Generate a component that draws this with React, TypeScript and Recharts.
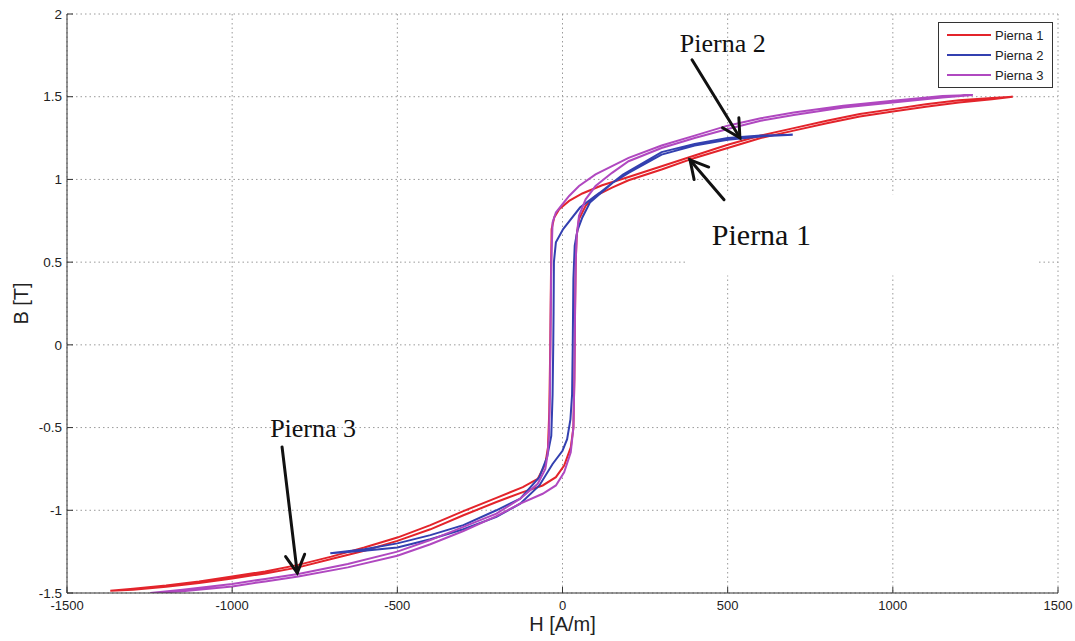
import {
  LineChart, Line, XAxis, YAxis, CartesianGrid, Legend,
  ReferenceLine, ReferenceDot, ReferenceArea,
} from 'recharts'

document.body.style.margin = '0'

// ─── data ─────────────────────────────────────────────────────────────

const xTicks = [-1500, -1000, -500, 0, 500, 1000, 1500]
const yTicks = [-1.5, -1, -0.5, 0, 0.5, 1, 1.5, 2]
const seriesNames = ['Pierna 1', 'Pierna 2', 'Pierna 3']

// each loop = ascending branch (−Hmax → +Hmax) followed by descending branch (back)
const pierna1H = [
  -1369, -1300, -1200, -1100, -1000, -900, -800, -700, -600, -500, -400, -300, -200, -120, -60, -20, 5, 25, 33, 36, 38, 40, 43, 50, 70, 100, 150, 200, 300, 400, 500, 600, 700, 800, 900, 1000, 1100, 1200, 1300, 1363,
  1300, 1200, 1100, 1000, 900, 800, 700, 600, 500, 400, 300, 200, 120, 60, 20, -10, -25, -33, -35, -37, -40, -44, -52, -75, -120, -200, -300, -400, -500, -600, -700, -800, -900, -1000, -1100, -1200, -1300, -1369,
]
const pierna1B = [
  -1.487, -1.48, -1.462, -1.44, -1.412, -1.382, -1.345, -1.295, -1.245, -1.185, -1.115, -1.03, -0.95, -0.89, -0.85, -0.8, -0.73, -0.62, -0.5, -0.2, 0.2, 0.5, 0.66, 0.76, 0.84, 0.9, 0.95, 0.995, 1.06, 1.13, 1.19, 1.25, 1.295, 1.34, 1.38, 1.41, 1.44, 1.465, 1.485, 1.5,
  1.492, 1.478, 1.455, 1.425, 1.395, 1.355, 1.31, 1.265, 1.21, 1.145, 1.08, 1.015, 0.965, 0.915, 0.87, 0.82, 0.77, 0.7, 0.4, 0, -0.4, -0.62, -0.72, -0.81, -0.86, -0.925, -1.005, -1.09, -1.165, -1.225, -1.28, -1.33, -1.37, -1.4, -1.43, -1.455, -1.475, -1.487,
]

const pierna2H = [
  -703, -600, -500, -400, -300, -200, -128, -70, -30, 0, 14, 24, 29, 31, 33, 37, 45, 60, 83, 152, 200, 300, 400, 500, 600, 697,
  600, 500, 400, 300, 183, 113, 53, 2, -20, -26, -27, -28, -30, -34, -47, -70, -128, -200, -300, -400, -500, -600, -703,
]
const pierna2B = [
  -1.26, -1.245, -1.225, -1.175, -1.115, -1.04, -0.96, -0.85, -0.72, -0.64, -0.57, -0.45, -0.3, 0, 0.4, 0.6, 0.69, 0.77, 0.86, 0.98, 1.04, 1.15, 1.205, 1.24, 1.26, 1.27,
  1.265, 1.25, 1.215, 1.165, 1.03, 0.92, 0.83, 0.7, 0.62, 0.5, 0.2, 0, -0.3, -0.55, -0.68, -0.8, -0.93, -1.0, -1.09, -1.15, -1.2, -1.235, -1.26,
]

const pierna3H = [
  -1248, -1150, -1000, -900, -800, -650, -500, -400, -300, -200, -128, -60, -20, 5, 25, 33, 36, 38, 40, 43, 50, 70, 100, 150, 200, 300, 400, 500, 600, 700, 850, 1000, 1150, 1242,
  1150, 1000, 850, 700, 600, 500, 400, 300, 200, 100, 50, 20, 0, -20, -30, -34, -36, -38, -41, -45, -52, -75, -128, -200, -300, -400, -500, -650, -800, -900, -1000, -1150, -1248,
]
const pierna3B = [
  -1.5, -1.49, -1.46, -1.43, -1.4, -1.345, -1.275, -1.205, -1.125, -1.035, -0.96, -0.9, -0.85, -0.77, -0.65, -0.5, -0.2, 0.2, 0.5, 0.66, 0.78, 0.88, 0.96, 1.04, 1.11, 1.19, 1.25, 1.305, 1.355, 1.39, 1.435, 1.465, 1.495, 1.51,
  1.505, 1.475, 1.445, 1.405, 1.37, 1.325, 1.265, 1.205, 1.13, 1.03, 0.96, 0.9, 0.85, 0.8, 0.74, 0.5, 0.1, -0.3, -0.55, -0.66, -0.75, -0.84, -0.93, -1.02, -1.1, -1.18, -1.25, -1.325, -1.385, -1.415, -1.445, -1.48, -1.5,
]

// annotations (data coordinates)
const noteText = ['Pierna 1', 'Pierna 2', 'Pierna 3']
const noteH = [452, 355, -885]
const noteB = [0.605, 1.77, -0.556]
const arrowFromH = [489, 392, -849]
const arrowFromB = [0.877, 1.723, -0.617]
const arrowToH = [386, 537, -803]
const arrowToB = [1.118, 1.252, -1.378]

// ─── helpers ──────────────────────────────────────────────────────────

const COLORS = ['#e3242b', '#3340b0', '#b048c0']
const NOTE_SIZE = [30, 26, 26]
const AXIS = '#333'
const FONT = '"Liberation Sans", Arial, Helvetica, sans-serif'

const zip = (h: number[], b: number[]) => h.map((v, i) => ({ h: v, b: b[i] }))
const loops = [zip(pierna1H, pierna1B), zip(pierna2H, pierna2B), zip(pierna3H, pierna3B)]

function BottomTick({ x, y, payload }: any) {
  return (
    <g>
      <line x1={x} y1={y} x2={x} y2={y - 6} stroke={AXIS} />
      <text x={x} y={y + 17} textAnchor="middle" fontSize={13} fill="#222">{payload.value}</text>
    </g>
  )
}

function LeftTick({ x, y, payload }: any) {
  return (
    <g>
      <line x1={x} y1={y} x2={x + 6} y2={y} stroke={AXIS} />
      <text x={x - 5} y={y} dy="0.35em" textAnchor="end" fontSize={13.5} fill="#222">{payload.value}</text>
    </g>
  )
}

const TopTick = ({ x, y }: any) => <line x1={x} y1={y} x2={x} y2={y + 6} stroke={AXIS} />
const RightTick = ({ x, y }: any) => <line x1={x} y1={y} x2={x - 6} y2={y} stroke={AXIS} />

function Arrow({ x1, y1, x2, y2 }: any) {
  const ang = Math.atan2(y2 - y1, x2 - x1)
  const len = 20
  const spread = 0.5
  const ax = x2 - len * Math.cos(ang - spread)
  const ay = y2 - len * Math.sin(ang - spread)
  const bx = x2 - len * Math.cos(ang + spread)
  const by = y2 - len * Math.sin(ang + spread)
  return (
    <g stroke="#111" strokeWidth={3} fill="none" strokeLinecap="round">
      <line x1={x1} y1={y1} x2={x2} y2={y2} />
      <polyline points={`${ax},${ay} ${x2},${y2} ${bx},${by}`} />
    </g>
  )
}

function LegendBox() {
  return (
    <div style={{
      border: '1px solid #333', background: '#fff', padding: '2px 0 2px 8px',
      boxSizing: 'border-box', width: 115, fontFamily: FONT, fontSize: 13, color: '#222',
    }}>
      {seriesNames.map((n, i) => (
        <div key={n} style={{ display: 'flex', alignItems: 'center', height: 20 }}>
          <svg width={44} height={4}><line x1={0} y1={2} x2={44} y2={2} stroke={COLORS[i]} strokeWidth={2} /></svg>
          <span style={{ marginLeft: 4 }}>{n}</span>
        </div>
      ))}
    </div>
  )
}

function YLabel({ viewBox }: any) {
  const cx = viewBox.x + 21
  const cy = viewBox.y + viewBox.height / 2
  return (
    <text x={cx} y={cy} dy="0.35em" textAnchor="middle" fontSize={20} fill="#222"
      transform={`rotate(-90 ${cx} ${cy})`}>B [T]</text>
  )
}

export default function App() {
  return (
    <LineChart
      width={1075}
      height={641}
      margin={{ top: 14, right: 17, bottom: 0, left: 0 }}
      style={{ fontFamily: FONT, background: '#fff' }}
    >
      <CartesianGrid strokeDasharray="1.5 3" stroke="#9a9a9a" />
      <XAxis
        dataKey="h" type="number" domain={[-1500, 1500]} ticks={xTicks} allowDataOverflow
        height={48} tickSize={0} tickMargin={0} tick={<BottomTick />} tickLine={false}
        axisLine={{ stroke: AXIS }} interval={0}
        label={{ value: 'H [A/m]', position: 'insideBottom', offset: 10, fontSize: 20, fill: '#222' }}
      />
      <XAxis
        xAxisId="top" orientation="top" type="number" domain={[-1500, 1500]} ticks={xTicks} allowDataOverflow
        height={0} tickSize={0} tickMargin={0} tick={<TopTick />} tickLine={false} axisLine={{ stroke: AXIS }} interval={0}
      />
      <YAxis
        type="number" domain={[-1.5, 2]} ticks={yTicks} allowDataOverflow
        width={67} tickSize={0} tickMargin={0} tick={<LeftTick />} tickLine={false}
        axisLine={{ stroke: AXIS }} interval={0}
        label={{ content: <YLabel /> }}
      />
      <YAxis
        yAxisId="right" orientation="right" type="number" domain={[-1.5, 2]} ticks={yTicks} allowDataOverflow
        width={0} tickSize={0} tickMargin={0} tick={<RightTick />} tickLine={false} axisLine={{ stroke: AXIS }} interval={0}
      />
      <ReferenceArea x1={378} x2={1440} y1={0.42} y2={0.91} fill="#fff" fillOpacity={1} stroke="none" />
      {loops.map((d, i) => (
        <Line
          key={seriesNames[i]}
          data={d}
          dataKey="b"
          name={seriesNames[i]}
          type="linear"
          stroke={COLORS[i]}
          strokeWidth={2}
          dot={false}
          activeDot={false}
          isAnimationActive={false}
        />
      ))}
      {noteText.map((t, i) => (
        <ReferenceLine
          key={`arrow-${t}`}
          segment={[{ x: arrowFromH[i], y: arrowFromB[i] }, { x: arrowToH[i], y: arrowToB[i] }]}
          shape={<Arrow />}
        />
      ))}
      {noteText.map((t, i) => (
        <ReferenceDot
          key={`note-${t}`}
          x={noteH[i]}
          y={noteB[i]}
          shape={(p: any) => (
            <text x={p.cx} y={p.cy} fontFamily='"Liberation Serif", "Times New Roman", serif'
              fontSize={NOTE_SIZE[i]} fill="#111">{t}</text>
          )}
        />
      ))}
      <Legend
        layout="vertical" align="center" verticalAlign="middle"
        wrapperStyle={{ left: 938, top: 22, width: 115 }}
        content={<LegendBox />}
      />
    </LineChart>
  )
}
